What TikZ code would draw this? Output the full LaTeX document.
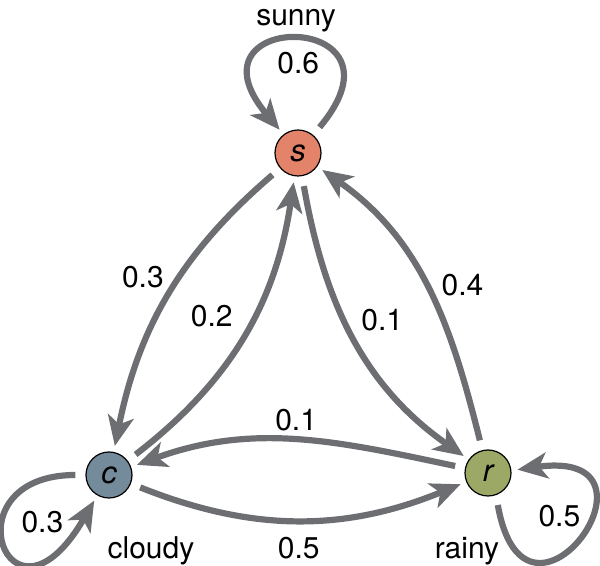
\documentclass[tikz,border=0pt]{standalone}
\usepackage{fontspec}
\setmainfont{TeX Gyre Heros}
\usetikzlibrary{arrows.meta}
\definecolor{edgegray}{HTML}{6D6E71}
\definecolor{sunnyred}{HTML}{E2836A}
\definecolor{cloudyblue}{HTML}{748B9B}
\definecolor{rainygreen}{HTML}{9CA966}
\tikzset{
  state/.style={circle,draw=black,line width=0.6pt,minimum size=23pt,inner sep=0pt,
    font=\fontsize{15.5}{18}\selectfont\itshape},
  trans/.style={draw=edgegray,line width=3.1pt,-{Stealth[length=15pt,width=13pt,inset=4pt]},
    shorten >=3pt,shorten <=5pt},
  prob/.style={font=\fontsize{15}{18}\selectfont,text=black},
}

\begin{document}
\begin{tikzpicture}[x=0.5pt,y=0.5pt]
  \useasboundingbox (0,0) rectangle (600,566);
  % states
  \node[state,fill=sunnyred] (s) at (298,413) {s};
  \node[state,fill=cloudyblue] (c) at (109,91) {c};
  \node[state,fill=rainygreen] (r) at (488,93) {r};
  \node[prob] (lsunny) at (296,545) {sunny};
  \node[prob] (lcloudy) at (151,15) {cloudy};
  \node[prob] (lrainy) at (467,15) {rainy};
  % transitions
  \draw[trans] (s) to[bend right=19] node[prob,auto,swap,inner sep=1.5pt] {0.3} (c);
  \draw[trans] (c) to[bend right=22] node[prob,auto] {0.2} (s);
  \draw[trans] (s) to[out=-80,in=145] node[prob,auto,pos=0.5,inner sep=2pt] {0.1} (r);
  \draw[trans] (r) to[out=104,in=-35] node[prob,auto,swap,pos=0.45,inner sep=2pt] {0.4} (s);
  \draw[trans] (r) to[out=168,in=20] node[prob,auto,swap] {0.1} (c);
  \draw[trans] (c) to[bend right=22] node[prob,auto,swap,yshift=-4pt] {0.5} (r);
  % self loops
  \draw[trans] (s.50) .. controls +(50:82pt) and +(130:82pt) .. node[prob,below=1pt] {0.6} (s.128);
  \draw[trans] (c.180) .. controls +(180:70pt) and +(240:88pt) .. node[prob,above right,xshift=3pt] {0.3} (c.240);
  \draw[trans] (r.-70) .. controls +(-80:85pt) and +(8:85pt) .. node[prob,above left,xshift=6pt] {0.5} (r.6);
\end{tikzpicture}
\end{document}
